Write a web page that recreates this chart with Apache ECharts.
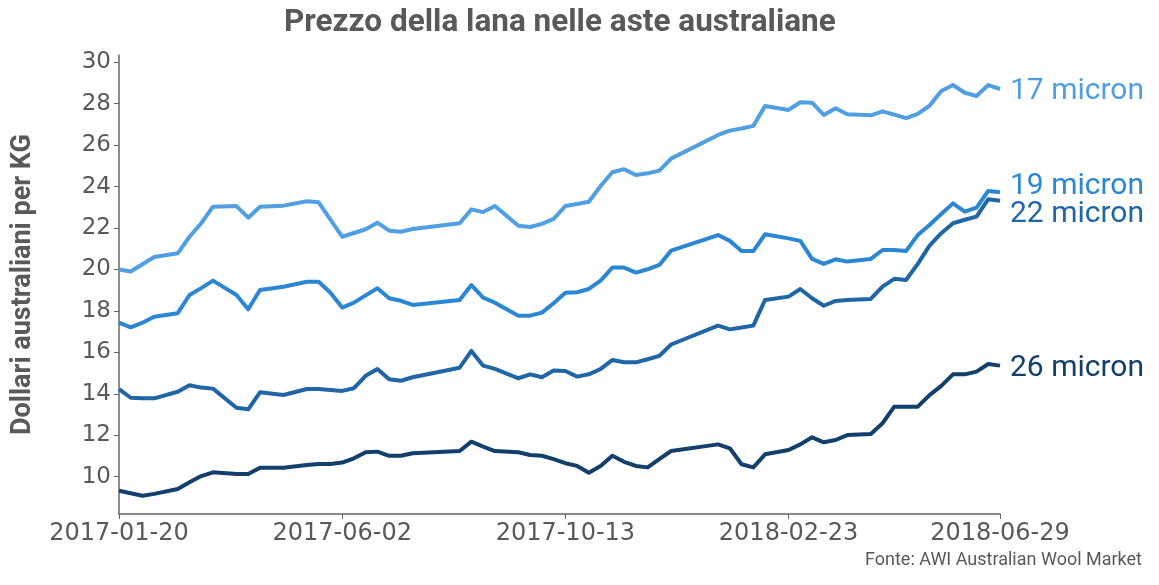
<!DOCTYPE html>
<html>
<head>
<meta charset="utf-8">
<script src="https://cdn.jsdelivr.net/npm/echarts@6/dist/echarts.min.js"></script>
<style>html,body{margin:0;padding:0;background:#fff}#c{width:1159px;height:585px}</style>
</head>
<body>
<div id="c"></div>
<script>
const dates = ['2017-01-20','2017-01-27','2017-02-03','2017-02-10','2017-02-24','2017-03-03','2017-03-10','2017-03-17','2017-03-31','2017-04-07','2017-04-14','2017-04-28','2017-05-12','2017-05-19','2017-05-26','2017-06-02','2017-06-09','2017-06-16','2017-06-23','2017-06-30','2017-07-07','2017-07-14','2017-08-11','2017-08-18','2017-08-25','2017-09-01','2017-09-15','2017-09-22','2017-09-29','2017-10-06','2017-10-13','2017-10-20','2017-10-27','2017-11-03','2017-11-10','2017-11-17','2017-11-24','2017-12-01','2017-12-08','2017-12-15','2018-01-12','2018-01-19','2018-01-26','2018-02-02','2018-02-09','2018-02-23','2018-03-02','2018-03-09','2018-03-16','2018-03-23','2018-03-30','2018-04-13','2018-04-20','2018-04-27','2018-05-04','2018-05-11','2018-05-18','2018-05-25','2018-06-01','2018-06-08','2018-06-15','2018-06-22','2018-06-29'];

const micron17 = [20.0,19.9,20.25,20.6,20.78,21.58,22.23,23.03,23.06,22.5,23.03,23.08,23.29,23.24,22.4,21.58,21.76,21.94,22.26,21.87,21.82,21.95,22.23,22.9,22.77,23.06,22.11,22.05,22.2,22.44,23.06,23.16,23.27,24.03,24.69,24.84,24.56,24.64,24.77,25.35,26.49,26.7,26.8,26.93,27.89,27.7,28.07,28.05,27.46,27.78,27.49,27.44,27.63,27.47,27.3,27.51,27.9,28.61,28.9,28.53,28.37,28.9,28.71];
const micron19 = [17.43,17.21,17.43,17.72,17.89,18.77,19.1,19.46,18.77,18.08,19.01,19.17,19.41,19.41,18.88,18.16,18.4,18.75,19.09,18.61,18.49,18.29,18.53,19.25,18.64,18.4,17.77,17.77,17.92,18.37,18.88,18.9,19.06,19.46,20.09,20.09,19.85,20.01,20.22,20.91,21.66,21.38,20.89,20.89,21.7,21.5,21.38,20.51,20.27,20.49,20.38,20.51,20.94,20.94,20.89,21.66,22.15,22.68,23.19,22.79,22.98,23.79,23.73];
const micron22 = [14.23,13.81,13.78,13.78,14.1,14.41,14.3,14.25,13.33,13.25,14.07,13.94,14.23,14.23,14.18,14.14,14.27,14.87,15.2,14.7,14.63,14.8,15.26,16.07,15.36,15.2,14.75,14.94,14.8,15.12,15.1,14.83,14.94,15.2,15.63,15.52,15.52,15.67,15.83,16.38,17.29,17.11,17.2,17.29,18.53,18.69,19.06,18.61,18.25,18.48,18.53,18.58,19.17,19.55,19.49,20.27,21.15,21.75,22.23,22.4,22.55,23.39,23.32];
const micron26 = [9.32,9.2,9.08,9.17,9.41,9.73,10.03,10.21,10.13,10.13,10.43,10.43,10.56,10.61,10.61,10.68,10.89,11.18,11.21,11.01,11.01,11.13,11.24,11.69,11.45,11.24,11.18,11.05,11.01,10.85,10.65,10.52,10.19,10.52,11.01,10.72,10.52,10.45,10.85,11.24,11.56,11.37,10.6,10.45,11.08,11.29,11.56,11.9,11.66,11.77,12.01,12.06,12.58,13.38,13.38,13.38,13.94,14.38,14.94,14.94,15.07,15.44,15.36];

const seriesNames = ['17 micron','19 micron','22 micron','26 micron'];
const xTicks = ['2017-01-20','2017-06-02','2017-10-13','2018-02-23','2018-06-29'];
const yTicks = [10,12,14,16,18,20,22,24,26,28,30];

const colors = ['#4f9fe2','#2b86d4','#1f66a7','#123f6c'];
const labelOffsets = [[0,3],[0,-6],[0,14],[0,3]];
const allValues = [micron17, micron19, micron22, micron26];

const gray = '#595959';
const ts = s => { const p = s.split('-').map(Number); return Date.UTC(p[0], p[1]-1, p[2]); };
const pad = n => (n < 10 ? '0' : '') + n;
const fmt = v => { const d = new Date(v); return d.getUTCFullYear() + '-' + pad(d.getUTCMonth()+1) + '-' + pad(d.getUTCDate()); };

const chart = echarts.init(document.getElementById('c'), null, {renderer: 'canvas'});
chart.setOption({
  animation: false,
  backgroundColor: '#fff',
  title: {
    text: 'Prezzo della lana nelle aste australiane',
    left: 279, top: 2,
    textStyle: {fontFamily: 'Roboto', fontWeight: 'bold', fontSize: 31.5, color: gray}
  },
  graphic: [{
    type: 'text', right: 17, top: 551,
    style: {text: 'Fonte: AWI Australian Wool Market', font: '18px Roboto', fill: gray}
  }],
  grid: {left: 119, right: 159, top: 55, bottom: 71, containLabel: false},
  xAxis: {
    type: 'value',
    min: ts(xTicks[0]), max: ts(xTicks[xTicks.length-1]),
    axisLine: {show: true, lineStyle: {color: '#666', width: 1.5}},
    axisTick: {show: true, length: 5, lineStyle: {color: '#666'}, customValues: xTicks.map(ts)},
    axisLabel: {customValues: xTicks.map(ts), formatter: v => fmt(v), fontFamily: 'DejaVu Sans', fontSize: 24, color: gray, margin: 8},
    splitLine: {show: false}
  },
  yAxis: {
    type: 'value',
    min: 8.2, max: 30.35,
    name: 'Dollari australiani per KG',
    nameLocation: 'middle', nameGap: 82,
    nameTextStyle: {fontFamily: 'Roboto', fontWeight: 'bold', fontSize: 27, color: gray},
    axisLine: {show: true, lineStyle: {color: '#666', width: 1.5}},
    axisTick: {show: true, length: 5, lineStyle: {color: '#666'}, customValues: yTicks},
    axisLabel: {customValues: yTicks, fontFamily: 'DejaVu Sans', fontSize: 23, color: gray, margin: 8},
    splitLine: {show: false}
  },
  series: seriesNames.map((name, i) => ({
    name: name,
    type: 'line',
    data: dates.map((d, j) => [ts(d), allValues[i][j]]),
    showSymbol: false,
    symbol: 'none',
    lineStyle: {width: 4, color: colors[i], join: 'round'},
    itemStyle: {color: colors[i]},
    z: 10 - i,
    endLabel: {
      show: true,
      formatter: '{a}',
      distance: 10,
      offset: labelOffsets[i],
      fontFamily: 'Roboto', fontSize: 30, color: colors[i]
    }
  }))
});
</script>
</body>
</html>
